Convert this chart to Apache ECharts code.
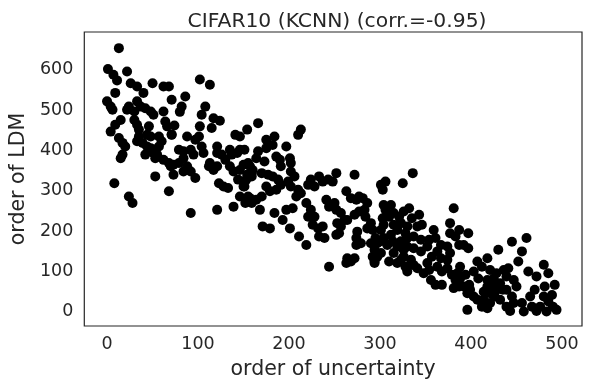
<!DOCTYPE html>
<html>
<head>
<meta charset="utf-8">
<script src="https://cdn.jsdelivr.net/npm/echarts@6/dist/echarts.min.js"></script>
<style>
html,body{margin:0;padding:0;background:#fff;}
#main{width:590px;height:390px;}
</style>
</head>
<body>
<div id="main"></div>
<script>
// 标题与坐标轴
var titleText = "CIFAR10 (KCNN) (corr.=-0.95)";
var xName = "order of uncertainty";
var yName = "order of LDM";
var xTicks = [0, 100, 200, 300, 400, 500];
var yTicks = [0, 100, 200, 300, 400, 500, 600];

// x = order of uncertainty, y = order of LDM
// 左上部分
var orderU1 = [13,1,7,11,22,26,33,40,50,62,68,71,86,82,80,74,71,102,113,108,104,102,101,97,117,124,115,9,0,4,6,24,22,30,33,37,42,48,51,62,64,15,9,4,30,33,35,35,46,44,48,57,60,57,66,71,88,13,17,20,17,15,33,39,44,48,51,55,53,42,62,68,73,70,79,84,92,95,84,79,88,84,92,97,104,106,113,112,117,121,123,128,133,121,121,126,130,135,137,143,146,141,146,154,135,139,146,150,154,157,159,144,150,146,152,157,139,8,24,28,53,73,68,92,121];
var orderLDM1 = [654,602,588,574,596,567,559,543,567,559,559,526,534,509,496,462,440,576,563,509,489,460,435,427,480,474,456,543,522,509,501,509,501,497,522,509,505,497,489,497,472,476,464,447,476,464,452,435,460,439,435,435,423,410,460,439,435,431,419,410,390,381,423,419,410,406,394,390,381,390,377,369,365,361,402,398,402,390,381,369,361,348,348,332,410,394,369,361,352,361,319,311,307,410,394,390,377,402,390,394,402,439,435,452,361,348,352,365,340,361,344,328,311,286,270,282,261,319,286,270,336,340,299,245,253];
// 中部
var orderU2 = [166,151,213,210,175,184,182,175,166,164,197,173,186,190,201,202,191,155,160,159,153,151,170,177,182,188,191,186,179,175,202,206,199,202,224,221,228,233,237,243,248,252,272,155,159,164,170,168,184,193,201,211,219,171,179,197,204,208,213,210,219,224,221,228,226,232,237,239,233,241,244,250,252,257,253,257,261,252,255,263,268,274,277,281,286,283,277,272,264,275,274,279,274,284,290,286,292,295,290,297,294,301,297,294,264,268,272,263,244,301,306,303,325,304,312,306,310,303,304,301,315,321,323,315,319,330,312,314,323,330,319,326,315,323,310,319,308,304,301,294,292,336];
var orderLDM2 = [468,402,452,439,427,435,414,406,398,381,410,373,385,377,381,369,361,369,352,336,328,311,344,340,336,328,315,303,299,311,348,336,323,311,328,315,311,336,323,328,323,344,340,286,270,278,286,253,245,228,207,187,166,212,207,253,257,286,294,303,270,253,236,236,216,207,212,183,187,278,261,270,253,245,220,212,228,191,195,299,282,278,286,282,270,253,249,241,228,199,183,170,166,236,220,207,203,183,170,170,154,146,137,125,133,125,133,121,112,315,323,303,319,265,265,253,236,232,216,203,245,236,220,216,203,212,191,175,175,183,162,154,146,129,125,121,166,183,175,121,137,344];
// 右下部分
var orderU3 = [381,332,326,335,343,346,341,377,377,387,383,397,392,397,387,359,361,354,352,345,337,328,325,330,337,345,367,374,363,357,367,374,377,326,334,328,337,330,341,352,354,348,356,361,368,363,368,374,379,385,383,388,394,387,381,392,398,399,396,403,407,412,396,388,407,418,412,421,403,408,418,425,428,418,425,432,414,421,428,435,426,432,414,421,418,430,445,461,456,452,441,463,480,485,472,492,481,470,465,480,489,485,490,476,467,472,483,494,439,447,443,456,458,436,439,447,450,439,445];
var orderLDM3 = [257,257,249,232,241,216,212,220,195,203,187,195,166,158,166,203,183,179,162,179,187,195,170,162,158,150,166,162,150,137,133,129,146,137,129,112,116,100,108,121,104,96,79,67,67,112,100,108,92,96,79,83,92,63,59,63,67,55,46,38,30,13,5,112,125,133,112,104,100,83,79,83,96,63,67,71,50,46,55,55,38,30,30,22,9,154,174,183,150,125,108,100,117,96,88,67,63,55,38,38,42,26,13,13,13,2,1,5,13,22,2,22,1,104,88,79,63,55,38];

var orderU = orderU1.concat(orderU2, orderU3);
var orderLDM = orderLDM1.concat(orderLDM2, orderLDM3);
var points = [];
for (var i = 0; i < orderU.length; i++) {
	points.push([orderU[i], orderLDM[i]]);
}

var chart = echarts.init(document.getElementById('main'));
var txt = '#262626';
var ff = 'DejaVu Sans';
chart.setOption({
	animation: false,
	title: {
		text: titleText,
		left: 332,
		textAlign: 'center',
		top: 7,
		textStyle: {fontFamily: ff, fontSize: 20.3, fontWeight: 'normal', color: txt}
	},
	grid: {
		left: 82, top: 32, width: 500, height: 294,
		show: true, borderColor: txt, borderWidth: 1.2, backgroundColor: '#fff'
	},
	xAxis: {
		type: 'value', min: -25, max: 522,
		name: xName, nameLocation: 'middle', nameGap: 33,
		nameTextStyle: {fontFamily: ff, fontSize: 20.5, color: txt},
		splitLine: {show: false},
		axisLine: {show: false},
		axisTick: {show: false},
		axisLabel: {customValues: xTicks, fontFamily: ff, fontSize: 17.5, color: txt, margin: 9}
	},
	yAxis: {
		type: 'value', min: -35, max: 694,
		name: yName, nameLocation: 'middle', nameGap: 53,
		nameTextStyle: {fontFamily: ff, fontSize: 20.5, color: txt},
		splitLine: {show: false},
		axisLine: {show: false},
		axisTick: {show: false},
		axisLabel: {customValues: yTicks, fontFamily: ff, fontSize: 17.5, color: txt, margin: 11}
	},
	series: [{
		type: 'scatter',
		data: points,
		symbolSize: 10,
		itemStyle: {color: '#000', opacity: 1}
	}]
});
</script>
</body>
</html>
